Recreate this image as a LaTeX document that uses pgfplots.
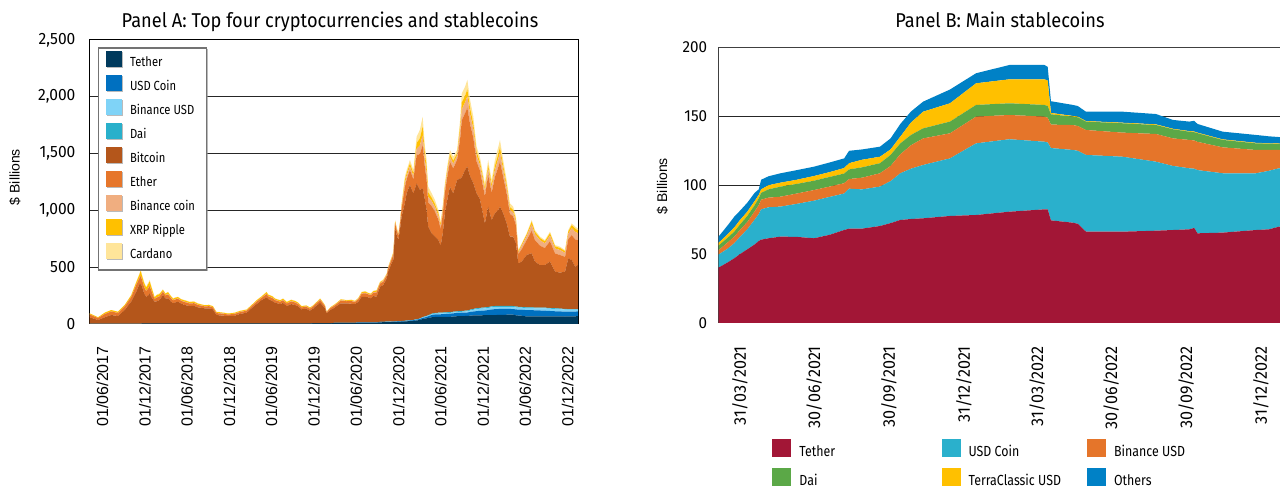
\documentclass[border=0pt]{standalone}
\usepackage{fontspec}
\setmainfont{Liberation Sans}
\newfontfamily\din{Fira Sans}[FakeStretch=0.85]
\newfontfamily\dint{Fira Sans}[FakeStretch=0.91]
\newfontfamily\dinw{Fira Sans}[FakeStretch=0.95]
\usepackage{pgfplots}
\usepackage{pgfplotstable}
\pgfplotsset{compat=1.18}
\usetikzlibrary{shadows}

\definecolor{aTeth}{HTML}{003A5D}
\definecolor{aUsdc}{HTML}{0070C0}
\definecolor{aBusd}{HTML}{7FD3F7}
\definecolor{aDai}{HTML}{29B0CB}
\definecolor{aBtc}{HTML}{B4561B}
\definecolor{aEth}{HTML}{E6762B}
\definecolor{aBnb}{HTML}{F0AE80}
\definecolor{aXrp}{HTML}{FFC000}
\definecolor{aAda}{HTML}{FFE59A}

\definecolor{bTeth}{HTML}{A21636}
\definecolor{bUsdc}{HTML}{2AB0CC}
\definecolor{bBusd}{HTML}{E5752A}
\definecolor{bDai}{HTML}{5BA847}
\definecolor{bUst}{HTML}{FFC000}
\definecolor{bOth}{HTML}{0081C6}

\pgfplotstableread{
d teth usdc busd dai btc eth bnb xrp ada
-56 1 0 0 0 58 24.5 0.7 9.8 0
-19 1 0 0 0 34 16.8 0.5 6.7 0
10 1 0 0 0 58 28.7 0.8 11.5 0
38 1 0 0 0 78 30.8 0.9 12.3 0
67 1 0 0 0 69 26.6 0.8 10.6 0
96 1 0 0 0 122 30.8 0.9 12.3 0
124 1.4 0 0 0 194.6 40 1.2 14.8 3
146 1.4 0 0 0 282.6 59.8 1.8 22 4.4
161 1.4 0 0 0 356.6 51.7 2.8 30.1 9.4
165 1.4 0 0 0 348.6 71.5 3.9 41.6 13
170 2.3 0 0 0 332.7 57.8 3.2 33.6 10.5
180 2.3 0 0 0 267.7 55 3 32 10
189 2.3 0 0 0 237.7 48.4 2.6 28.2 8.8
197 2.3 0 0 0 247.7 60.5 3.3 35.2 11
204 2.3 0 0 0 267.7 64.4 3.5 37.4 11.7
212 2.3 0 0 0 232.7 52.3 2.9 30.4 9.5
225 2.3 0 0 0 193.7 24.2 1.3 14.1 4.4
235 2.3 0 0 0 197.7 33 1.8 19.2 6
247 2.3 0 0 0 208.7 32.5 1.8 18.9 5.9
261 2.3 0 0 0 252.7 29 3.5 14 3.5
272 2.3 0 0 0 222.7 26.1 3.2 12.6 3.2
283 2.3 0 0 0 223.7 33.6 4.1 16.2 4.1
295 2.3 0 0 0 197.7 29 3.5 14 3.5
305 2.3 0 0 0 179.7 25.5 3.1 12.3 3.1
315 2.3 0 0 0 187.7 26.1 3.2 12.6 3.2
326 2.3 0 0 0 193.7 25.5 3.1 12.3 3.1
340 2.3 0 0 0 177.7 23.2 2.8 11.2 2.8
355 2.3 0 0 0 164.7 25.5 3.1 12.3 3.1
377 2.3 0 0 0 155.7 22 2.7 10.6 2.7
395 2.3 0 0 0 157.7 23.2 2.8 11.2 2.8
412 2.3 0 0 0 144.7 20.3 2.5 9.8 2.5
441 2.3 0 0 0 135.7 16.8 2 8.1 2
460 2.3 0 0 0 135.7 18.6 2.2 9 2.2
477 2.3 0 0 0 126.7 16.8 2 8.1 2
492 2.3 0 0 0 76.7 16.8 2 8.1 2
510 2.3 0 0 0 72.7 17.4 2.1 8.4 2.1
542 2.3 0 0 0 67.7 13.9 1.7 6.7 1.7
570 3 0.4 0 0 68.6 16.2 2 7.8 2
594 3 0.4 0 0 84.6 16.8 2 8.1 2
623 3 0.4 0 0 96.6 16.8 2 8.1 2
645 3 0.4 0 0 136.6 17.4 2.1 8.4 2.1
666 3 0.4 0 0 172.6 20.3 2.5 9.8 2.5
688 3 0.4 0 0 207.6 20.3 2.5 9.8 2.5
709 3 0.4 0 0 231.6 28.4 3.4 13.7 3.4
716 3 0.4 0 0 216.6 23.2 2.8 11.2 2.8
724 3 0.4 0 0 207.6 25.5 3.1 12.3 3.1
735 3 0.4 0 0 196.6 26.1 3.2 12.6 3.2
745 3 0.4 0 0 184.6 22 2.7 10.6 2.7
767 3 0.4 0 0 172.6 20.3 2.5 9.8 2.5
780 3 0.4 0 0 181.6 23.2 2.8 11.2 2.8
796 3 0.4 0 0 154.6 22 2.7 10.6 2.7
815 3 0.4 0 0 171.6 23.2 2.8 11.2 2.8
832 3 0.4 0 0 163.6 22 2.7 10.6 2.7
845 3 0.4 0 0 151.6 20.3 2.5 9.8 2.5
860 3 0.4 0 0 125.6 16.8 2 8.1 2
880 3 0.4 0 0 131.6 17.4 2.1 8.4 2.1
896 3 0.4 0 0 113.6 17.4 2.1 8.4 2.1
910 4.6 0.5 0.1 0.1 129.7 18.6 2.7 6 2.7
918 4.6 0.5 0.1 0.1 146.7 18.6 2.7 6 2.7
930 4.6 0.5 0.1 0.1 164.7 21.7 3.2 7 3.2
940 4.6 0.5 0.1 0.1 182.7 23.6 3.4 7.6 3.4
950 4.6 0.5 0.1 0.1 159.7 21.7 3.2 7 3.2
961 4.6 0.5 0.1 0.1 132.7 18 2.6 5.8 2.6
968 4.6 0.5 0.1 0.1 88.7 8.7 1.3 2.8 1.3
985 4.6 0.5 0.1 0.1 119.7 15.5 2.3 5 2.3
1000 8 0.8 0.2 0.1 131 18.6 2.7 6 2.7
1012 8 0.8 0.2 0.1 149 18.6 2.7 6 2.7
1030 8 0.8 0.2 0.1 173 23.6 3.4 7.6 3.4
1055 8 0.8 0.2 0.1 173 18 2.6 5.8 2.6
1075 8 0.8 0.2 0.1 169 22.9 3.3 7.4 3.3
1091 8 0.8 0.2 0.1 167 18 2.6 5.8 2.6
1105 12 1.5 0.3 0.6 180.6 21.7 3.2 7 3.2
1120 12 1.5 0.3 0.6 225.6 27.3 4 8.8 4
1135 12 1.5 0.3 0.6 223.6 32.2 4.7 10.4 4.7
1148 12 1.5 0.3 0.6 220.6 25.4 3.7 8.2 3.7
1160 12 1.5 0.3 0.6 210.6 27.9 4.1 9 4.1
1170 12 1.5 0.3 0.6 231.6 29.1 4.2 9.4 4.2
1184 12 1.5 0.3 0.6 225.6 36.6 5.3 11.8 5.3
1199 15 2.5 0.4 0.9 309.2 27.3 4 8.8 4
1213 15.5 2.6 0.4 0.9 323.6 30 7 6 7
1228 16 2.7 0.4 0.9 382 26.4 6.2 5.3 6.2
1234 16.4 2.7 0.4 1 440.5 26.4 6.2 5.3 6.2
1249 17 2.8 0.4 0.9 513 34.8 8.1 7 8.1
1257 17.4 2.8 0.4 1 548.4 42 9.8 8.4 9.8
1264 18 2.8 0.4 1 819.8 43.8 10.2 8.8 10.2
1270 18.6 3 0.4 1 767 42 9.8 8.4 9.8
1278 19.5 3.2 0.5 1 715 35.4 8.3 7.1 8.3
1285 20.2 3.4 0.5 1.1 805 42 9.8 8.4 9.8
1292 20.8 3.6 0.5 1.1 919 70.2 16.4 14 16.4
1306 22 4.2 0.7 1.2 1034 141 32.9 28.2 32.9
1314 23.5 4.8 0.8 1.2 1120 123.6 28.8 24.7 28.8
1328 25.5 5.5 1 1.3 1191 132 30.8 26.4 30.8
1343 27 6 1.2 1.5 1114 123.6 28.8 24.7 28.8
1357 31 7.5 1.5 2 1196 247 57.7 49.4 57.7
1371 35 8.5 2 2.5 1132 317 74 63 74
1383 44 10 4 3.5 1132.5 378.6 88.3 75.7 88.3
1393 47.5 11 4.8 3.6 1025 281.4 65.7 56.3 65.7
1400 50 12.5 5 4 928.5 270 63 54 63
1407 53 14.5 5.3 4.4 779.8 211 49.3 42.2 49.3
1422 59.5 19.5 6.5 5 707.5 239.4 45.8 28.2 38.7
1436 61.6 22.5 7 6 671.9 219.6 42 25.8 35.5
1451 62.7 22 7.3 7.3 639.7 180.2 34.5 21.2 29.2
1461 62.6 23 7.4 7.2 589.8 142.8 27.3 16.8 23.1
1470 62.5 24 7.5 7 699 170 32.5 20 27.5
1479 62.2 25.3 7.6 6.9 872 179.5 34.3 21.1 29.1
1490 61.5 27.3 7.7 6.8 996.7 204 39 24 33
1501 63 27.7 7.5 6.8 1104 219.6 42 25.8 35.5
1515 65.5 28.3 7.3 6.9 1042 219.6 42 25.8 35.5
1532 68.5 29 7 7 1156.5 179.5 34.3 21.1 29.1
1545 69.2 29.3 7.9 7.1 1166.5 353.6 67.6 41.6 57.2
1552 69.6 29.5 8.4 7.2 1175.3 503.2 96.2 59.2 81.4
1566 70.4 29.8 9.4 7.4 1239 498.4 95.3 58.6 80.6
1576 71 30 10 7.5 1266.5 520.2 99.5 61.2 84.2
1588 73.3 32.4 12.3 7.7 1174.3 457 87.4 53.8 73.9
1602 75 35 15 7.8 1107 397.8 76 46.8 64.4
1616 75.7 37.5 17.8 7.5 1011.5 279.5 53.4 32.9 45.2
1630 76.3 39.2 19.1 7.5 957.9 253.6 48.5 29.8 41
1652 77.5 41.3 18.4 8.3 740.5 239.4 45.8 28.2 38.7
1666 77.9 44.5 18.5 8.5 883.6 279.5 53.4 32.9 45.2
1681 78.2 49.5 19.1 8.5 759.7 240 45.9 28.2 38.8
1695 78.7 52 19.2 8.5 815.6 319.6 61.1 37.6 51.7
1710 79.6 52.3 18.5 8.5 845 378.8 72.4 44.6 61.3
1717 80 52.4 18.2 8.5 874 399.2 76.3 47 64.6
1731 80.8 52.6 17.6 8.5 814.5 319.6 61.1 37.6 51.7
1746 81.4 51.4 17.8 8.5 726.9 259.8 49.7 30.6 42
1760 82 50.2 18 8.5 610.3 199.2 38.1 23.4 32.2
1774 82.5 49.1 18.2 8.5 610.7 179.5 34.3 21.1 29.1
1786 76.5 51.5 17.3 7.8 556.9 159.8 30.5 18.8 25.9
1796 74.5 52.5 17 7.5 382.5 79.6 15.2 9.4 12.9
1811 72.8 52.8 18.1 6.1 399.2 109.5 30.6 12.9 8.1
1832 66.3 55.7 18.1 6.1 460.8 129.9 36.3 15.3 9.6
1854 66.3 55 17.8 6.4 476.5 199.2 55.7 23.4 14.7
1868 66.3 54.4 17.5 6.8 404 189 52.8 22.2 13.9
1890 66.6 52.3 18.8 6.6 374.7 170 47.5 20 12.5
1911 67 50.1 20.1 6.5 375.3 149.6 41.8 17.6 11
1933 67.6 46.8 20.4 6.2 408 179.5 50.2 21.1 13.2
1955 67.8 44.2 20.5 6 322.5 159.1 44.5 18.7 11.7
1976 66.7 43.7 19.7 5.7 316.2 155.7 43.5 18.3 11.5
1998 65.9 42.8 18.5 5.3 328.5 129.2 36.1 15.2 9.5
2012 66.5 42.2 17.8 5.1 446.4 169.3 47.3 19.9 12.5
2027 67.2 41.5 17.2 4.9 432.2 219.6 61.4 25.8 16.2
2042 68 41.6 16.1 4.7 373.6 240 67.1 28.2 17.7
2054 68.5 42 15.3 4.6 389.6 217.6 60.8 25.6 16
}\tabA

\pgfplotstableread{
d teth usdc busd dai ust oth
-27 40 9.4 3.1 3.4 1.9 4.4
-15 44 10 4.5 3.5 2.5 6.5
-7 47 10.9 4.8 3.6 3.1 7.8
0 50 12.5 5 4 3.2 6.8
9 53.5 14.5 5.3 4.4 3.1 6.5
18 57 18 6 4.5 3 6
23 59.5 19.5 6.5 5 2.5 4
26 60.5 22 7 5 2.5 7
35 61.5 22.5 7 6 3 6.5
50 62.7 21.8 7.2 7.3 2.9 6.8
70 62.5 24 7.5 7 3 7
91 61.5 27.3 7.7 6.8 3.4 6.8
110 64 27.5 7.5 7 3.5 7
128 67.5 26.5 7.5 7 4 7
134 68.5 29 7 7 4.5 9
150 68.5 28.5 8.5 7.5 5.5 7.5
172 70.4 28.6 9.7 7.3 4.7 7.3
185 72.5 30.5 11 8 4 8
197 74.8 33.9 13.8 7.9 4.9 9.2
210 75.5 36.5 17 7.5 9 8
225 76 38.7 19.3 7.3 12.1 7.3
258 77.7 41.8 18.2 8.5 13.3 10
290 78.4 52 19.4 8.5 15.7 7.3
331 80.8 52.6 17.6 8.5 17.4 10.4
374 82.5 49.1 18.2 8.5 18.6 10.4
378 82.5 48.5 18 8.5 18.5 10
382 74.5 52.5 17 7.5 1 8.5
409 72.8 52.8 18.1 6.1 0.5 8
415 72 53 18 6.3 0.5 7.7
425 66.3 55.7 18.1 6.1 0.4 6.8
470 66.3 54.4 17.5 6.8 0.4 8
511 67 50.1 20.1 6.5 0.5 7.5
532 67.5 46.5 20 6.6 0.4 6.4
552 68 44.3 20.6 6 0.4 6.9
558 69 43 20.5 6 0.5 7.8
562 65.1 45.9 20.5 6.3 0.4 6.3
593 65.6 43.1 18.8 5.4 0.4 5.6
634 67.5 41.2 16.9 4.8 0.4 5.7
650 68 42.5 15.1 4.6 0.3 5
662 69.9 42.4 13.3 4.4 0.3 4.7
685 71 42 13 4 0.3 4.7
}\tabB

\begin{document}
\begin{tikzpicture}
\begin{axis}[
  set layers,
  at={(44.75pt,83.5pt)}, anchor=south west,
  width=244.25pt, height=142pt, scale only axis,
  xmin=-56, xmax=2054, ymin=0, ymax=2500,
  stack plots=y,
  ytick={0,500,1000,1500,2000,2500},
  ymajorgrids, grid style={black!85, line width=0.5pt},
  axis line style={black, line width=0.5pt, on layer=axis foreground},
  major tick length=0pt,
  xtick={0,183,365,548,730,913,1096,1279,1461,1644,1826,2009},
  xticklabels={01/06/2017,01/12/2017,01/06/2018,01/12/2018,01/06/2019,01/12/2019,01/06/2020,01/12/2020,01/06/2021,01/12/2021,01/06/2022,01/12/2022},
  xticklabel style={rotate=90, anchor=east, inner sep=0pt, font=\fontsize{8}{9}\selectfont},
  xticklabel shift=11pt,
  yticklabel style={anchor=east, inner sep=0pt, font=\dinw\fontsize{8.2}{10}\selectfont},
  yticklabel shift=6.85pt,
  /pgf/number format/assume math mode=true,
  /pgf/number format/1000 sep={,},
  ylabel={\$ Billions},
  ylabel style={at={(axis description cs:-0.1525,0.5176)}, anchor=center, font=\fontsize{7}{8}\selectfont},
  legend image code/.code={\path (0pt,0pt); \fill[#1] (2pt,-2pt) rectangle (10pt,6pt);},
  legend cell align=left,
  legend style={at={(axis description cs:0.0174,0.974)}, anchor=north west,
    draw=black!55, line width=0.6pt, fill=white, inner xsep=1.85pt, inner ysep=1.5pt,
    drop shadow={shadow xshift=0.6pt, shadow yshift=-0.6pt, fill=black!45, opacity=0.6},
    font=\din\fontsize{6.6}{8}\selectfont,
    nodes={text height=6pt, text depth=2pt, inner ysep=2pt, inner xsep=3.9pt}},
]
\addplot[fill=aTeth, draw=none] table[x=d,y=teth]{\tabA} \closedcycle;
\addplot[fill=aUsdc, draw=none] table[x=d,y=usdc]{\tabA} \closedcycle;
\addplot[fill=aBusd, draw=none] table[x=d,y=busd]{\tabA} \closedcycle;
\addplot[fill=aDai, draw=none] table[x=d,y=dai]{\tabA} \closedcycle;
\addplot[fill=aBtc, draw=none] table[x=d,y=btc]{\tabA} \closedcycle;
\addplot[fill=aEth, draw=none] table[x=d,y=eth]{\tabA} \closedcycle;
\addplot[fill=aBnb, draw=none] table[x=d,y=bnb]{\tabA} \closedcycle;
\addplot[fill=aXrp, draw=none] table[x=d,y=xrp]{\tabA} \closedcycle;
\addplot[fill=aAda, draw=none] table[x=d,y=ada]{\tabA} \closedcycle;
\legend{Tether,USD Coin,Binance USD,Dai,Bitcoin,Ether,Binance coin,XRP Ripple,Cardano}
\end{axis}

\begin{axis}[
  set layers,
  at={(359.25pt,84pt)}, anchor=south west,
  width=287.5pt, height=137.75pt, scale only axis,
  xmin=-26.4, xmax=680, ymin=0, ymax=200,
  stack plots=y,
  ytick={0,50,100,150,200},
  ymajorgrids, grid style={black!85, line width=0.5pt},
  axis line style={black!75, line width=0.5pt, on layer=axis foreground},
  major tick length=0pt,
  xtick={0,91,183,275,365,456,548,640},
  xticklabels={31/03/2021,30/06/2021,30/09/2021,31/12/2021,31/03/2022,30/06/2022,30/09/2022,31/12/2022},
  xticklabel style={rotate=90, anchor=east, inner sep=0pt, font=\dinw\fontsize{8.5}{10}\selectfont},
  xticklabel shift=11.5pt,
  yticklabel style={anchor=east, inner sep=0pt, font=\dinw\fontsize{8}{10}\selectfont},
  yticklabel shift=5.5pt,
  /pgf/number format/assume math mode=true,
  ylabel={\$ Billions},
  ylabel style={at={(axis description cs:-0.0974,0.497)}, anchor=center, font=\fontsize{7}{8}\selectfont},
  legend columns=3,
  legend image code/.code={\fill[#1] (0pt,-2.25pt) rectangle (9.5pt,6.75pt);},
  legend cell align=left,
  legend style={at={(axis description cs:0.093,-0.4156)}, anchor=north west,
    draw=none, fill=none, inner sep=0pt,
    font=\din\fontsize{7.3}{9}\selectfont,
    nodes={text height=6.5pt, text depth=2pt, inner ysep=3pt, inner xsep=4pt},
    /tikz/every even column/.style={column sep=0pt}},
]
\addplot[fill=bTeth, draw=none] table[x=d,y=teth]{\tabB} \closedcycle;
\addplot[fill=bUsdc, draw=none] table[x=d,y=usdc]{\tabB} \closedcycle;
\addplot[fill=bBusd, draw=none] table[x=d,y=busd]{\tabB} \closedcycle;
\addplot[fill=bDai, draw=none] table[x=d,y=dai]{\tabB} \closedcycle;
\addplot[fill=bUst, draw=none] table[x=d,y=ust]{\tabB} \closedcycle;
\addplot[fill=bOth, draw=none] table[x=d,y=oth]{\tabB} \closedcycle;
\legend{\makebox[67.1pt][l]{Tether},\makebox[55.25pt][l]{USD Coin},Binance USD,\makebox[67.1pt][l]{Dai},\makebox[55.25pt][l]{TerraClassic USD},Others}
\end{axis}

\node[font=\dint\fontsize{10}{12}\selectfont, anchor=base] at (165pt,231.85pt) {Panel A: Top four cryptocurrencies and stablecoins};
\node[font=\dint\fontsize{10}{12}\selectfont, anchor=base] at (500pt,231.85pt) {Panel B: Main stablecoins};

\pgfresetboundingbox
\useasboundingbox (0,0) rectangle (640pt,245.5pt);
\end{tikzpicture}
\end{document}
